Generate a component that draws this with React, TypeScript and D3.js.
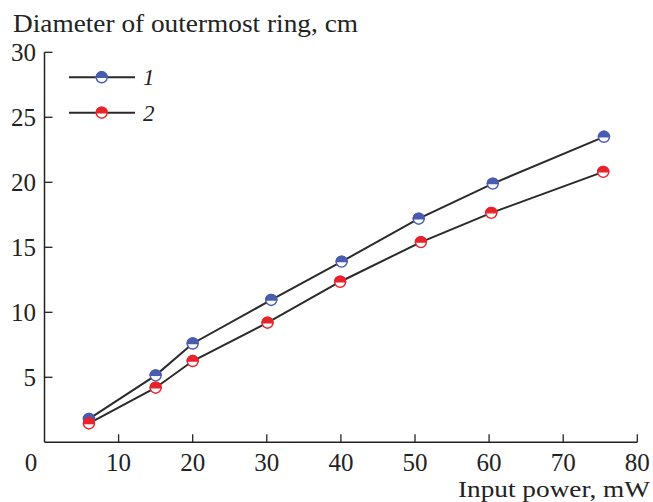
import React from "react";
import * as d3 from "d3";

const series1X = [6, 15, 20, 30.6, 40.1, 50.5, 60.5, 75.5];
const series1Y = [1.8, 5.15, 7.6, 10.95, 13.9, 17.2, 19.9, 23.5];
const series2X = [6, 15, 20, 30.1, 39.9, 50.8, 60.3, 75.4];
const series2Y = [1.45, 4.2, 6.25, 9.2, 12.35, 15.4, 17.65, 20.8];
const xTicks = [0, 10, 20, 30, 40, 50, 60, 70, 80];
const yTicks = [5, 10, 15, 20, 25, 30];
const legendLabels = ["1", "2"];
const colors = ["#4a5cb0", "#e8232b"];

const W = 653;
const H = 502;
const FONT = "'Liberation Serif', 'Times New Roman', serif";

function Marker({ cx, cy, color }: { cx: number; cy: number; color: string }) {
  const r = 5.5;
  const top = `M${cx - r},${cy} A${r},${r} 0 0,1 ${cx + r},${cy} Z`;
  return (
    <g>
      <circle cx={cx} cy={cy} r={r} fill="#fff" stroke={color} strokeWidth={1.4} />
      <path d={top} fill={color} stroke={color} strokeWidth={1.4} />
    </g>
  );
}

export default function App() {
  const x = d3.scaleLinear().domain([0, 80]).range([44.5, 637.3]);
  const y = d3.scaleLinear().domain([0, 30]).range([442.3, 52.3]);
  const line = d3
    .line<[number, number]>()
    .x((d) => x(d[0]))
    .y((d) => y(d[1]));
  const data = [
    series1X.map((v, i) => [v, series1Y[i]] as [number, number]),
    series2X.map((v, i) => [v, series2Y[i]] as [number, number]),
  ];
  const x0 = x(0);
  const y0 = y(0);
  const tickLen = 8;
  return (
    <svg
      width={W}
      height={H}
      style={{ position: "absolute", left: 0, top: 0, background: "#fff" }}
      fontFamily={FONT}
    >
      <rect width={W} height={H} fill="#fff" />
      {/* axes */}
      <line x1={x0} y1={y(30)} x2={x0} y2={y0} stroke="#222" strokeWidth={1.5} />
      <line x1={x0} y1={y0} x2={x(80)} y2={y0} stroke="#222" strokeWidth={1.5} />
      {yTicks.map((t) => (
        <g key={"y" + t}>
          <line x1={x0} x2={x0 + tickLen} y1={y(t)} y2={y(t)} stroke="#222" strokeWidth={1.3} />
          <text x={36} y={y(t) + 9} textAnchor="end" fontSize={25} fill="#222">
            {t}
          </text>
        </g>
      ))}
      {xTicks.map((t) => (
        <g key={"x" + t}>
          {t > 0 && (
            <line x1={x(t)} x2={x(t)} y1={y0} y2={y0 - tickLen} stroke="#222" strokeWidth={1.3} />
          )}
          <text x={t === 0 ? 31 : x(t)} y={470.5} textAnchor="middle" fontSize={25} fill="#222">
            {t}
          </text>
        </g>
      ))}
      <text x={13} y={31.5} fontSize={25} fill="#222" textLength={345} lengthAdjust="spacingAndGlyphs">
        Diameter of outermost ring, cm
      </text>
      <text x={458} y={497} fontSize={24} fill="#222" textLength={192} lengthAdjust="spacingAndGlyphs">
        Input power, mW
      </text>
      {/* lines */}
      {data.map((d, i) => (
        <path key={"l" + i} d={line(d) || ""} fill="none" stroke="#2a2a2a" strokeWidth={2} />
      ))}
      {data.map((d, i) =>
        d.map((p, j) => <Marker key={`m${i}-${j}`} cx={x(p[0])} cy={y(p[1])} color={colors[i]} />)
      )}
      {/* legend */}
      {legendLabels.map((lab, i) => {
        const ly = 77.3 + i * 35.4;
        return (
          <g key={"lg" + i}>
            <line x1={69} x2={135} y1={ly} y2={ly} stroke="#2a2a2a" strokeWidth={2} />
            <Marker cx={101.7} cy={ly} color={colors[i]} />
            <text x={143} y={ly + 8} fontSize={23} fontStyle="italic" fill="#222">
              {lab}
            </text>
          </g>
        );
      })}
    </svg>
  );
}
